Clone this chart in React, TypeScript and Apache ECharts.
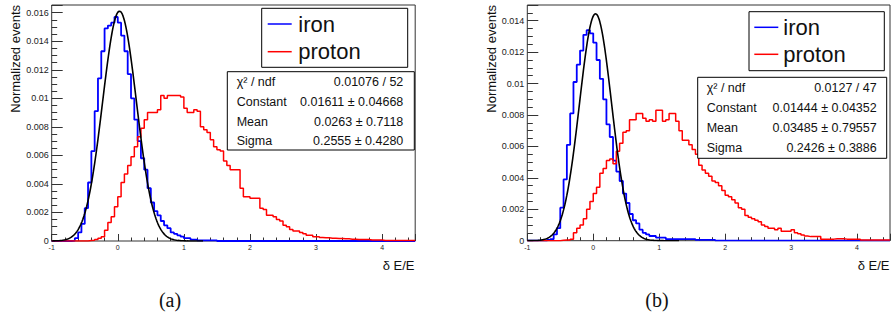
import React, { useEffect, useRef } from "react";
import * as echarts from "echarts";

// ---------- data ----------
const BIN_MIN = -1;
const BIN_WIDTH = 0.05;
const X_MIN = -1;
const X_MAX = 4.5;

const IRON_A = [
  0, 0, 0, 0, 0, 0, 0.00003, 0.0002, 0.0006, 0.0012,
  0.0023, 0.0041, 0.0063, 0.0091, 0.0114, 0.0133, 0.0149, 0.0151, 0.0153, 0.0157,
  0.0153, 0.0144, 0.0133, 0.0117, 0.0100, 0.0085, 0.0070, 0.0058, 0.0050, 0.0037,
  0.0027, 0.0021, 0.0018, 0.0014, 0.0011, 0.0009, 0.0006, 0.0005, 0.0004, 0.0003,
  0.0002, 0.0002, 0.0001, 0.0001, 0.00005, 0.00005, 0.00005, 0.00005, 0.00005, 0.00005,
  0, 0, 0, 0, 0, 0, 0, 0, 0, 0,
  0, 0, 0, 0, 0, 0, 0, 0, 0, 0,
  0, 0, 0, 0, 0, 0, 0, 0, 0, 0,
  0, 0, 0, 0, 0, 0, 0, 0, 0, 0,
  0, 0, 0, 0, 0, 0, 0, 0, 0, 0,
  0, 0, 0, 0, 0, 0, 0, 0, 0, 0,
];

const PROTON_A = [
  0, 0, 0, 0, 0, 0, 0, 0, 0, 0,
  0, 0.00003, 0.00005, 0.0001, 0.0002, 0.0003, 0.00075, 0.0013, 0.0017, 0.0024,
  0.0031, 0.0041, 0.0047, 0.0053, 0.0059, 0.0066, 0.0073, 0.0079, 0.0085, 0.0090,
  0.0090, 0.0090, 0.0092, 0.0102, 0.0100, 0.0102, 0.0102, 0.0102, 0.0102, 0.0101,
  0.0093, 0.0090, 0.0090, 0.0092, 0.0091, 0.0080, 0.0078, 0.0076, 0.0071, 0.0066,
  0.0064, 0.0063, 0.0056, 0.0053, 0.0050, 0.0050, 0.0050, 0.0037, 0.0031, 0.0031,
  0.0030, 0.0030, 0.0030, 0.0023, 0.0022, 0.0018, 0.0018, 0.0017, 0.0015, 0.0014,
  0.0011, 0.0010, 0.0008, 0.0007, 0.0007, 0.0006, 0.0005, 0.0004, 0.0004, 0.0003,
  0.0003, 0.00025, 0.00022, 0.00022, 0.0002, 0.0002, 0.00018, 0.00018, 0.00015, 0.00015,
  0.00012, 0.00012, 0.0001, 0.0001, 0.0001, 0.0001, 0.00007, 0.00007, 0.00007, 0.00007,
  0.00004, 0.00004, 0.00004, 0.00004, 0.00004, 0.00004, 0.00004, 0.00004, 0.00004, 0.00004,
];

const IRON_B = [
  0, 0, 0, 0, 0, 0, 0.00005, 0.0001, 0.0004, 0.0008,
  0.0021, 0.0039, 0.0061, 0.0081, 0.0101, 0.0112, 0.0121, 0.0131, 0.0134, 0.0132,
  0.0126, 0.0115, 0.0103, 0.0090, 0.0074, 0.0066, 0.0051, 0.0044, 0.0038, 0.0030,
  0.0024, 0.0017, 0.0013, 0.0011, 0.0007, 0.0005, 0.0004, 0.0003, 0.0003, 0.0002,
  0.0002, 0.0002, 0.0001, 0.0001, 0.0001, 0.0001, 0.0001, 0.0001, 0.0001, 0.0001,
  0.0001, 0.00005, 0.00005, 0.00005, 0.00005, 0.00005, 0.00005, 0, 0, 0,
  0, 0, 0, 0, 0, 0, 0, 0, 0, 0,
  0, 0, 0, 0, 0, 0, 0, 0, 0, 0,
  0, 0, 0, 0, 0, 0, 0, 0, 0, 0,
  0, 0, 0, 0, 0, 0, 0, 0, 0, 0,
  0, 0, 0, 0, 0, 0, 0, 0, 0, 0,
];

const PROTON_B = [
  0, 0, 0, 0, 0, 0, 0, 0, 0, 0,
  0.00003, 0.00005, 0.00005, 0.0001, 0.0005, 0.0008, 0.0010, 0.0014, 0.0020, 0.0025,
  0.0030, 0.0034, 0.0043, 0.0046, 0.0051, 0.0052, 0.0049, 0.0057, 0.0062, 0.0069,
  0.0070, 0.0077, 0.0077, 0.0081, 0.0081, 0.0078, 0.0076, 0.0077, 0.0076, 0.0083,
  0.0083, 0.0076, 0.0077, 0.0081, 0.0081, 0.0076, 0.0070, 0.0064, 0.0064, 0.0061,
  0.0058, 0.0055, 0.0048, 0.0045, 0.0043, 0.0041, 0.0038, 0.0037, 0.0035, 0.0032,
  0.0029, 0.0028, 0.0026, 0.0024, 0.0021, 0.0020, 0.0016, 0.0015, 0.0014, 0.0013,
  0.0012, 0.0010, 0.0009, 0.0008, 0.0008, 0.0007, 0.0008, 0.0006, 0.0006, 0.0006,
  0.0007, 0.0005, 0.00045, 0.00036, 0.0003, 0.00026, 0.00026, 0.00026, 0.00026, 0.0001,
  0.0001, 0.0001, 0.0001, 0.00013, 0.00013, 0.00013, 0.0001, 0.0001, 0.0001, 0.0001,
  0.0001, 0.00005, 0.00005, 0.00005, 0.00005, 0.00005, 0.00005, 0.00005, 0.00005, 0.00005,
];

// Gaussian fit parameters [Constant, Mean, Sigma] as printed in the stats boxes
const FIT_A = [0.01611, 0.0263, 0.2555];
const FIT_B = [0.01444, 0.03485, 0.2426];

const STAT_LABELS = ["χ² / ndf", "Constant", "Mean", "Sigma"];
const STATS_A = ["0.01076 / 52", "0.01611 ± 0.04668", "0.0263 ± 0.7118", "0.2555 ± 0.4280"];
const STATS_B = ["0.0127 / 47", "0.01444 ± 0.04352", "0.03485 ± 0.79557", "0.2426 ± 0.3886"];

const LEGEND_NAMES = ["iron", "proton"];
const Y_TITLE = "Normalized events";
const X_TITLE = "δ E/E";
const CAPTIONS = ["(a)", "(b)"];

// ---------- helpers ----------
const SANS = '"Liberation Sans", Arial, Helvetica, sans-serif';
const SERIF = '"Liberation Serif", "Times New Roman", serif';
const IRON_COLOR = "#0000ff";
const PROTON_COLOR = "#ff0000";
const AXIS_COLOR = "#333333";

function histData(values: number[]) {
  const pts: [number, number][] = values.map((v, i) => [BIN_MIN + i * BIN_WIDTH, v]);
  pts.push([BIN_MIN + values.length * BIN_WIDTH, values[values.length - 1]]);
  return pts;
}

function gaussData(p: number[]) {
  const [c, m, s] = p;
  const pts: [number, number][] = [];
  for (let k = 0; k <= 230; k++) {
    const x = -1 + k * 0.01;
    pts.push([x, c * Math.exp(-((x - m) * (x - m)) / (2 * s * s))]);
  }
  return pts;
}

const PANELS = [
  {
    grid: { left: 51.7, top: 5, width: 363.5, height: 236 },
    yMax: 0.01654,
    iron: IRON_A,
    proton: PROTON_A,
    fit: FIT_A,
    stats: STATS_A,
    legend: { x: 261.7, y: 8.3, w: 146, h: 59, l1: 267.7, l2: 291.7, tx: 298.3, rows: [24, 51.7] },
    box: { x: 227.3, y: 71.7, w: 187, h: 78.3, lx: 236.7, vx: 403.3, rows: [81.7, 101.7, 121.5, 140.5] },
    yTitleX: 15.5,
    xTitleX: 414.5,
    captionX: 170,
  },
  {
    grid: { left: 527.3, top: 5, width: 362.7, height: 235.7 },
    yMax: 0.015,
    iron: IRON_B,
    proton: PROTON_B,
    fit: FIT_B,
    stats: STATS_B,
    legend: { x: 749, y: 11.7, w: 135.3, h: 59, l1: 754.3, l2: 778.3, tx: 783.3, rows: [27.3, 54.3] },
    box: { x: 697.7, y: 77.3, w: 189, h: 81, lx: 706.7, vx: 876.7, rows: [88.3, 108.3, 128.3, 147.7] },
    yTitleX: 491,
    xTitleX: 889.5,
    captionX: 657,
  },
];

function txt(text: string, x: number, y: number, size: number, align: string, family = SANS, extra: any = {}) {
  return {
    type: "text",
    x,
    y,
    ...extra,
    style: {
      text,
      x: 0,
      y: 0,
      fill: "#111",
      font: `${size}px ${family}`,
      fontSize: size,
      fontFamily: family,
      align,
      textAlign: align,
      verticalAlign: "middle",
      textVerticalAlign: "middle",
    },
    z: 100,
  };
}

function buildOption() {
  const grid: any[] = [];
  const xAxis: any[] = [];
  const yAxis: any[] = [];
  const series: any[] = [];
  const graphic: any[] = [];

  PANELS.forEach((p, idx) => {
    grid.push({
      ...p.grid,
      show: true,
      borderColor: AXIS_COLOR,
      borderWidth: 1,
      backgroundColor: "transparent",
      containLabel: false,
    });
    xAxis.push({
      type: "value",
      gridIndex: idx,
      min: X_MIN,
      max: X_MAX,
      interval: 1,
      axisLine: { show: false, onZero: false },
      splitLine: { show: false },
      axisTick: { show: true, inside: true, length: 7, lineStyle: { color: AXIS_COLOR, width: 1 } },
      minorTick: { show: true, splitNumber: 5, length: 3.5, lineStyle: { color: AXIS_COLOR, width: 1 } },
      minorSplitLine: { show: false },
      axisLabel: {
        show: true,
        fontSize: 7,
        fontFamily: SANS,
        color: "#222",
        margin: 3,
        showMaxLabel: false,
        formatter: (v: number) => String(Math.round(v)),
      },
    });
    yAxis.push({
      type: "value",
      gridIndex: idx,
      min: 0,
      max: p.yMax,
      interval: 0.002,
      axisLine: { show: false, onZero: false },
      splitLine: { show: false },
      axisTick: { show: true, inside: true, length: 11, lineStyle: { color: AXIS_COLOR, width: 1 } },
      minorTick: { show: true, splitNumber: 4, length: 5.5, lineStyle: { color: AXIS_COLOR, width: 1 } },
      minorSplitLine: { show: false },
      axisLabel: {
        show: true,
        fontSize: 9,
        fontFamily: SANS,
        color: "#222",
        margin: 3,
        showMaxLabel: false,
        formatter: (v: number) => (v === 0 ? "0" : String(+v.toFixed(4))),
      },
    });

    series.push({
      name: LEGEND_NAMES[0],
      type: "line",
      xAxisIndex: idx,
      yAxisIndex: idx,
      step: "end",
      symbol: "none",
      data: histData(p.iron),
      lineStyle: { color: IRON_COLOR, width: 1.8 },
      z: 2,
    });
    series.push({
      name: LEGEND_NAMES[1],
      type: "line",
      xAxisIndex: idx,
      yAxisIndex: idx,
      step: "end",
      symbol: "none",
      data: histData(p.proton),
      lineStyle: { color: PROTON_COLOR, width: 1.5 },
      z: 3,
    });
    series.push({
      name: "fit",
      type: "line",
      xAxisIndex: idx,
      yAxisIndex: idx,
      symbol: "none",
      smooth: false,
      data: gaussData(p.fit),
      lineStyle: { color: "#000", width: 1.6 },
      z: 4,
    });

    // legend box
    const L = p.legend;
    graphic.push({
      type: "rect",
      shape: { x: L.x, y: L.y, width: L.w, height: L.h },
      style: { fill: "#fff", stroke: "#000", lineWidth: 1 },
      z: 90,
    });
    [IRON_COLOR, PROTON_COLOR].forEach((c, k) => {
      graphic.push({
        type: "line",
        shape: { x1: L.l1, y1: L.rows[k], x2: L.l2, y2: L.rows[k] },
        style: { stroke: c, lineWidth: 1.5 },
        z: 95,
      });
      graphic.push(txt(LEGEND_NAMES[k], L.tx, L.rows[k], 22, "left"));
    });

    // stats box
    const B = p.box;
    graphic.push({
      type: "rect",
      shape: { x: B.x, y: B.y, width: B.w, height: B.h },
      style: { fill: "#fff", stroke: "#000", lineWidth: 1 },
      z: 90,
    });
    STAT_LABELS.forEach((lab, k) => {
      graphic.push(txt(lab, B.lx, B.rows[k], 12.5, "left"));
      graphic.push(txt(p.stats[k], B.vx, B.rows[k], 12.5, "right"));
    });

    // axis titles
    graphic.push(txt(Y_TITLE, p.yTitleX, 5, 13, "right", SANS, { rotation: Math.PI / 2 }));
    graphic.push(txt(X_TITLE, p.xTitleX, 265.5, 13, "right"));
    // caption
    graphic.push(txt(CAPTIONS[idx], p.captionX, 300, 20, "center", SERIF));
  });

  return {
    animation: false,
    backgroundColor: "#ffffff",
    grid,
    xAxis,
    yAxis,
    series,
    graphic: { elements: graphic },
  };
}

export default function App() {
  const ref = useRef<HTMLDivElement>(null);
  useEffect(() => {
    if (!ref.current) return;
    const chart = echarts.init(ref.current, undefined, { renderer: "svg" });
    chart.setOption(buildOption() as any);
    return () => chart.dispose();
  }, []);
  return (
    <div
      ref={ref}
      style={{ position: "fixed", left: 0, top: 0, width: 892, height: 320, background: "#fff" }}
    />
  );
}
